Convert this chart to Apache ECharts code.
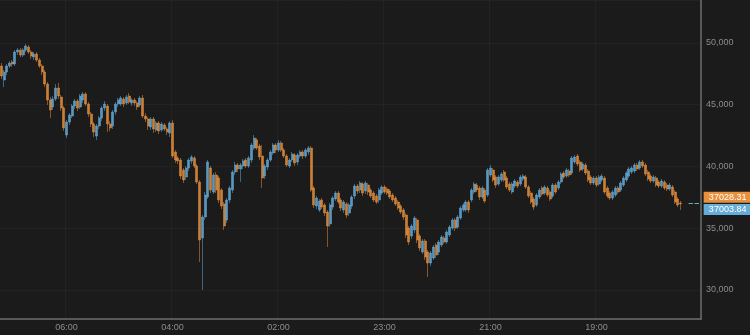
<!DOCTYPE html>
<html>
<head>
<meta charset="utf-8">
<script src="https://cdn.jsdelivr.net/npm/echarts@6/dist/echarts.min.js"></script>
<style>
html,body{margin:0;padding:0;background:#1b1b1b;}
#chart{width:750px;height:335px;}
</style>
</head>
<body>
<div id="chart"></div>
<script>
const tickLabels = ['06:00', '04:00', '02:00', '23:00', '21:00', '19:00'];
const tickIndex = [24, 63, 102, 141, 180, 219];
const slotCount = 258;

const opens = [
48137,47003,47651,48137,48461,48299,49271,49433,49028,49433,49676,49271,48866,49109,48623,48137,47651,46679,45383,44816,
45464,46355,45626,44735,42548,43601,44087,44897,45302,44816,45383,45869,45059,44249,43439,42467,43277,43925,44735,44897,
43439,43277,44411,45059,45059,45464,45140,45707,45140,45383,45140,44978,45545,44087,43844,43196,43844,42953,43520,42953,
43358,43034,42710,43520,41171,40685,40523,39713,39146,39875,40442,40685,40037,38741,34205,35906,37526,39875,37931,39308,
39065,38093,36959,35663,37283,38093,39551,40118,39794,40037,40523,40037,40523,41495,42143,41657,40847,39227,39956,40523,
41090,41738,41333,41900,41333,40847,40037,40523,40928,40361,40847,41171,40847,41171,41495,38255,36797,36473,37283,36878,
36311,35339,36716,37364,37850,37283,36473,36959,36230,36797,37607,38417,38093,38579,38012,38498,38093,37850,37607,37283,
37850,38336,38174,38012,37688,37445,37121,36797,36473,36068,35015,34367,34853,35663,34367,33071,33962,33071,32180,32585,
33638,33071,33638,34205,33881,34448,35015,35663,35096,35825,36473,36473,37121,37283,37931,38498,38255,37526,38093,37688,
39308,39713,39146,38579,38903,39551,39065,38579,37931,38417,38741,38579,38984,39146,38336,37850,37364,36878,37526,38255,
37850,38255,37931,37607,38498,38255,38741,39470,39227,39632,39470,40361,40847,40361,39794,40118,39632,39146,38660,39065,
38579,38903,39065,38255,37850,37445,37688,38255,38093,38498,38903,39227,39551,39632,40118,39875,40361,40118,39551,39227,
38822,39065,38741,38417,38741,38498,38174,38336,37931,37364,37040
];
const closes = [
47327,47651,48137,48380,48299,49271,49433,49028,49433,49757,49271,48947,49109,48623,48137,47651,46679,45383,44573,45464,
46355,45707,44735,43115,43601,44168,44897,45302,44735,45707,45869,45059,44249,43439,42791,43277,43925,44735,45059,43439,
43115,44411,45059,45383,45545,45059,45626,45221,45383,45140,44816,45545,44087,43844,43277,43844,43034,43520,42872,43439,
43034,42791,43520,40847,40523,40442,39227,38903,39875,40523,40766,40037,38741,34043,35906,37688,40361,38093,39308,38093,
37283,36797,35177,37283,38255,39551,40118,39794,40118,40442,40037,40685,41738,42305,41495,40766,39065,40037,40523,41171,
41738,41333,41900,41333,40847,40118,40523,41009,40280,40928,41171,40847,41333,41495,38093,36878,37445,37202,36716,36230,
35177,36878,37445,37850,37121,36635,37121,36068,36878,37526,38417,38012,38660,37850,38660,37931,37607,37283,37121,38093,
38336,37931,37850,37526,37283,36959,36635,36311,35906,34448,33881,35177,35825,34043,33395,33962,32666,32180,32990,33476,
32828,33881,34286,33881,34691,35096,35663,35015,35906,36635,36878,37121,36473,38093,38579,38093,37526,38255,37202,39713,
39875,38903,38498,39146,39389,38903,38336,38093,38579,38822,38417,39146,39227,38336,37607,37121,36716,37688,38093,37769,
38336,37688,37364,38498,37931,38741,39389,39146,39713,39308,40685,40766,40199,39713,40199,39470,38903,38660,39065,38498,
39146,39227,37931,37607,37445,37931,38255,37931,38660,39065,39470,39794,39875,40118,39794,40361,40037,39389,38984,38822,
39146,38498,38417,38822,38255,38174,38498,37688,37121,36878,36959
];
const lows = [
47084,46436,47408,47975,48056,48137,49028,48866,48866,49271,49109,48704,48623,48461,47975,47408,46436,44978,43925,44573,
45302,45464,44492,42872,42305,43358,43925,44654,44492,44654,45140,44897,44006,43196,42386,42143,43034,43682,44492,42791,
42872,43034,44168,44816,44897,44816,44978,45059,44897,44897,44573,44816,43925,43601,42953,42953,42710,42791,42629,42791,
42872,42548,42386,40685,40280,40199,38984,38660,38903,39632,40199,39875,38579,32261,29993,35663,37364,37850,37769,37850,
37040,36554,34853,35420,37040,37850,39308,39551,38741,39794,39875,39875,40280,41333,41333,40523,38255,38984,39713,40361,
40928,41090,41171,41171,40685,39956,39875,40361,40037,40118,40685,40604,40685,40928,37931,36635,36554,36311,36554,35987,
33476,35096,36473,37202,36959,36392,36230,35825,35987,36554,37364,37769,37850,37607,37769,37688,37445,37121,36959,37040,
37688,37769,37688,37364,37121,36797,36473,36149,35663,34205,33638,34124,34610,33800,33152,32909,32423,31046,31937,32423,
32585,32828,33476,33719,33719,34286,34853,34772,34934,35663,36311,36311,36230,37121,37769,37931,37283,37364,37040,37526,
39146,38741,38255,38417,38741,38741,38174,37931,37769,38255,38255,38417,38822,38174,37445,36959,36473,36716,37364,37607,
37688,37526,37202,37445,37769,38093,38579,38984,39065,39146,39308,40199,40037,39551,39632,39308,38741,38498,38498,38336,
38417,38741,37769,37445,37283,37283,37526,37769,37931,38336,38741,39065,39389,39470,39632,39713,39875,39227,38822,38660,
38660,38336,38255,38255,38093,38012,38012,37526,36959,36716,36473
];
const highs = [
48380,47813,48299,48542,48623,49433,49595,49595,49595,49919,49838,49433,49271,49271,48785,48299,47813,46841,45626,45707,
46679,46760,45788,44897,43763,44330,45059,45464,45464,45869,46031,46031,45221,44411,43601,43439,44087,44897,45302,45059,
43682,44573,45221,45545,45707,45626,45788,45950,45545,45545,45302,45707,45788,44330,44006,44006,44006,43682,43682,43601,
43520,43196,43682,43763,41333,40847,40685,39875,40037,40685,40928,40847,40199,38903,36068,37931,40523,40037,39470,39551,
39227,38255,37121,37445,38417,39713,40361,40280,40280,40604,40685,40847,41900,42548,42305,41819,41738,40199,40685,41333,
41900,41900,42143,42062,41495,41009,40685,41171,41090,41090,41333,41333,41495,41657,41657,38417,37607,37364,37445,37040,
36473,37040,37607,38012,38012,37445,37283,37121,37040,37688,38579,38579,38822,38741,38822,38660,38255,38012,37769,38255,
38498,38498,38336,38174,37850,37607,37283,36959,36635,36230,35177,35339,35987,35825,34529,34124,34124,33233,33152,33638,
33800,34043,34448,34367,34853,35258,35825,35825,36068,36797,37040,37283,37283,38255,38741,38660,38417,38417,38255,39875,
40118,39875,39308,39308,39551,39713,39227,38741,38741,38984,38903,39308,39389,39308,38498,38012,37526,37850,38255,38417,
38498,38417,38093,38660,38660,38903,39551,39632,39875,39794,40847,40928,41009,40523,40361,40280,39794,39308,39227,39227,
39308,39389,39227,38417,38012,38093,38417,38417,38822,39227,39632,39956,40037,40280,40280,40523,40523,40280,39713,39389,
39308,39227,38903,38984,38903,38660,38660,38498,38093,37526,37202
];
const lastPrices = [37028.31, 37003.84];

const orange = '#e8903c';
const blue = '#66acd9';

const categories = [];
for (let i = 0; i < slotCount; i++) categories.push(String(i));
const candles = opens.map((o, i) => [o, closes[i], lows[i], highs[i]]);
const showTick = (idx) => tickIndex.indexOf(idx) >= 0;
const lastCat = categories[slotCount - 1];
const boxCat = categories[candles.length + 2];

const chart = echarts.init(document.getElementById('chart'), null, {renderer: 'canvas'});
chart.setOption({
  animation: false,
  backgroundColor: '#1b1b1b',
  grid: {left: 0, right: 49, top: 0, bottom: 16, containLabel: false},
  xAxis: {
    type: 'category',
    data: categories,
    boundaryGap: true,
    axisLine: {show: true, lineStyle: {color: '#6e6e6e', width: 1.5}},
    axisTick: {show: false},
    axisLabel: {
      interval: (idx) => showTick(idx),
      formatter: (v, idx) => tickLabels[tickIndex.indexOf(Number(v))] || '',
      color: '#8c8c8c', fontSize: 9, margin: 4,
      fontFamily: 'Liberation Sans, Arial, sans-serif'
    },
    splitLine: {show: true, interval: (idx) => showTick(idx), lineStyle: {color: 'rgba(255,255,255,0.03)', width: 1}}
  },
  yAxis: {
    type: 'value',
    position: 'right',
    min: 27644,
    max: 53483,
    splitNumber: 5,
    axisLine: {show: true, lineStyle: {color: '#6e6e6e', width: 1.5}},
    axisTick: {show: false},
    axisLabel: {
      showMinLabel: false, showMaxLabel: false,
      formatter: (v) => v.toLocaleString('en-US'),
      color: '#8c8c8c', fontSize: 9, margin: 5,
      fontFamily: 'Liberation Sans, Arial, sans-serif'
    },
    splitLine: {show: true, lineStyle: {color: 'rgba(255,255,255,0.03)', width: 1}}
  },
  series: [{
    type: 'candlestick',
    data: candles,
    barWidth: '92%',
    clip: false,
    itemStyle: {
      color: blue, color0: orange,
      borderColor: blue, borderColor0: orange,
      borderWidth: 0.6, opacity: 0.85
    },
    markLine: {
      silent: true,
      symbol: 'none',
      label: {show: false},
      data: [
        [{coord: [boxCat, lastPrices[0]], lineStyle: {color: orange, type: 'dashed', width: 1}},
         {coord: [lastCat, lastPrices[0]]}],
        [{coord: [boxCat, lastPrices[1]], lineStyle: {color: blue, type: 'dashed', width: 1}},
         {coord: [lastCat, lastPrices[1]]}]
      ]
    },
    markPoint: {
      silent: true,
      symbol: 'rect',
      symbolSize: [48, 11],
      label: {
        show: true, position: 'inside', color: '#ffffff', fontSize: 9,
        fontFamily: 'Liberation Sans, Arial, sans-serif',
        formatter: (p) => p.value.toFixed(2)
      },
      data: [
        {coord: [lastCat, lastPrices[0]], value: lastPrices[0], symbolOffset: [28, -6], itemStyle: {color: orange}},
        {coord: [lastCat, lastPrices[1]], value: lastPrices[1], symbolOffset: [28, 6], itemStyle: {color: blue}}
      ]
    }
  }]
});
</script>
</body>
</html>
